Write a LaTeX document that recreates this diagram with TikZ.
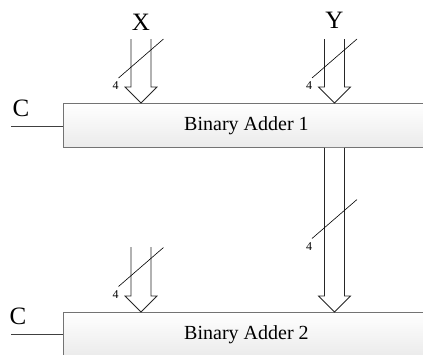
\documentclass[tikz,border=0pt]{standalone}
\usepackage{fontspec}
\setmainfont{Liberation Serif}
\usetikzlibrary{calc,positioning}

\tikzset{
  adder/.style={draw=gray!90!black, line width=0.9pt, top color=white, bottom color=gray!16,
    minimum width=366pt, minimum height=44pt, inner sep=0pt, font=\fontsize{20}{22}\selectfont},
  bus/.style={draw=black!85, line width=0.8pt, fill=white},
  sig/.style={font=\fontsize{25}{27}\selectfont, inner sep=0pt},
  width/.style={font=\fontsize{12}{13}\selectfont, inner sep=0pt},
}

% hollow bus arrow: open top #1, tip #2
\newcommand{\busarrow}[2]{%
  \draw[bus] ($(#1)+(-10,0)$) -- ($(#2)+(-10,-16)$) -- ($(#2)+(-16,-16)$) -- (#2)
    -- ($(#2)+(16,-16)$) -- ($(#2)+(10,-16)$) -- ($(#1)+(10,0)$);}
% width slash through a bus, centred at #1
\newcommand{\buswidth}[1]{%
  \draw[black, line width=0.6pt] ($(#1)+(22.5,-19.5)$) -- ($(#1)+(-22.5,19.5)$)
    node[width, anchor=center, xshift=-3pt, yshift=-8pt] {4};}

\begin{document}
\begin{tikzpicture}[x=1pt, y=-1pt]
 \useasboundingbox (0,0) rectangle (423,354);
 \node[adder, anchor=north west] (add1) at (63,103) {Binary Adder 1};
 \node[adder, anchor=north west] (add2) at (63,312) {Binary Adder 2};
 %
 \node[sig] (x) at (141,22) {X};
 \node[sig] (y) at (334.5,20) {Y};
 \coordinate (xtop) at (141,39);
 \coordinate (ytop) at (334.5,39);
 \coordinate (x2top) at (141,247);
 \coordinate (xtip) at (xtop |- add1.north);
 \coordinate (ytip) at (ytop |- add1.north);
 \coordinate (stop) at (ytop |- add1.south);
 \coordinate (stip) at (ytop |- add2.north);
 \coordinate (x2tip) at (x2top |- add2.north);
 %
 \busarrow{xtop}{xtip}
 \busarrow{ytop}{ytip}
 \busarrow{stop}{stip}
 \busarrow{x2top}{x2tip}
 %
 \coordinate (wx) at (141,58.5);
 \coordinate (wy) at (334.5,58.5);
 \coordinate (ws) at (334.5,219);
 \coordinate (wx2) at (141,267);
 \buswidth{wx}
 \buswidth{wy}
 \buswidth{ws}
 \buswidth{wx2}
 %
 \node[sig] (c1) at (21,108) {C};
 \node[sig] (c2) at (18,316) {C};
 \coordinate (cin1) at (11,126);
 \coordinate (cin2) at (11,334);
 \draw[black!75, line width=0.8pt] (cin1) -- (cin1 -| add1.west);
 \draw[black!75, line width=0.8pt] (cin2) -- (cin2 -| add2.west);
\end{tikzpicture}
\end{document}
